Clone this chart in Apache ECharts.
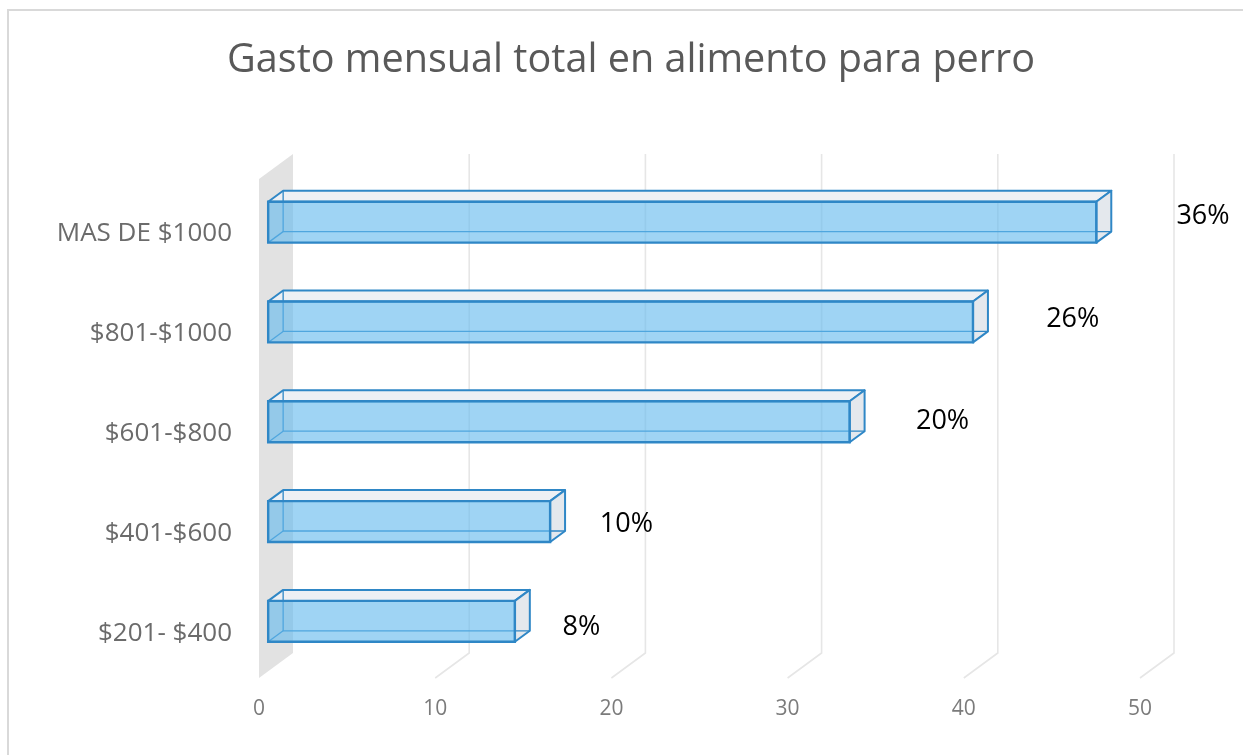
<!DOCTYPE html>
<html>
<head>
<meta charset="utf-8">
<script src="https://cdn.jsdelivr.net/npm/echarts@6/dist/echarts.min.js"></script>
<style>
html,body{margin:0;padding:0;background:#fff;}
#chart{width:1243px;height:755px;}
</style>
</head>
<body>
<div id="chart"></div>
<script>
const categories = ['$201- $400', '$401-$600', '$601-$800', '$801-$1000', 'MAS DE $1000'];
const values = [14, 16, 33, 40, 47];
const pctLabels = ['8%', '10%', '20%', '26%', '36%'];
const xTicks = [0, 10, 20, 30, 40, 50];
const titleText = 'Gasto mensual total en alimento para perro';

const FONT = '"Open Sans", "Noto Sans", sans-serif';
const DEPTH_X = 34, DEPTH_Y = -25;      // full floor depth (px)
const F0 = 0.27, F1 = 0.71;             // bar front/back depth fractions
const BAR_RATIO = 0.41;
const STROKE = '#2f87c6';

const chart = echarts.init(document.getElementById('chart'));

const barData = values.map((v, i) => [i, v, pctLabels[i]]);

chart.setOption({
  animation: false,
  title: {
    text: titleText,
    left: 626, top: 36, textAlign: 'center',
    textStyle: { fontFamily: FONT, fontSize: 39.6, fontWeight: 'normal', color: '#595959' }
  },
  graphic: [{
    type: 'rect', silent: true, z: -10,
    shape: { x: 8, y: 10, width: 1400, height: 900 },
    style: { fill: 'none', stroke: '#d9d9d9', lineWidth: 2 }
  }],
  grid: { left: 259, right: 103, top: 179, bottom: 77 },
  xAxis: {
    type: 'value', min: 0, max: 50, interval: 10,
    axisLine: { show: false }, axisTick: { show: false }, splitLine: { show: false },
    axisLabel: { margin: 21, fontFamily: FONT, fontSize: 21, color: '#7b7b7b' }
  },
  yAxis: {
    type: 'category', data: categories,
    axisLine: { show: false }, axisTick: { show: false }, splitLine: { show: false },
    axisLabel: { margin: 27, fontFamily: FONT, fontSize: 26, color: '#6b6b6b',
      verticalAlign: 'top', lineHeight: 10 }
  },
  series: [
    {
      type: 'custom', silent: true, z: 1,
      data: [[0]],
      renderItem: function (params, api) {
        const cs = params.coordSys;
        const x = cs.x, yt = cs.y, yb = cs.y + cs.height;
        return {
          type: 'polygon',
          shape: { points: [[x, yt], [x + DEPTH_X, yt + DEPTH_Y], [x + DEPTH_X, yb + DEPTH_Y], [x, yb]] },
          style: { fill: '#e2e2e2' }
        };
      }
    },
    {
      type: 'custom', silent: true, z: 1,
      data: xTicks.slice(1).map(t => [t]),
      renderItem: function (params, api) {
        const cs = params.coordSys;
        const p = api.coord([api.value(0), 0]);
        const x = p[0], yb = cs.y + cs.height, yt = cs.y;
        return {
          type: 'polyline',
          shape: { points: [[x, yb], [x + DEPTH_X, yb + DEPTH_Y], [x + DEPTH_X, yt + DEPTH_Y]] },
          style: { fill: 'none', stroke: '#e6e6e6', lineWidth: 1.6 }
        };
      }
    },
    {
      type: 'custom', z: 5,
      data: barData,
      renderItem: function (params, api) {
        const cs = params.coordSys;
        const ci = api.value(0), v = api.value(1);
        const p0 = api.coord([0, ci]);
        const p1 = api.coord([v, ci]);
        const band = api.size([0, 1])[1];
        const h = band * BAR_RATIO;
        const fx = DEPTH_X * F0, fy = DEPTH_Y * F0;
        const dx = DEPTH_X * (F1 - F0), dy = DEPTH_Y * (F1 - F0);
        const xl = p0[0] + fx, xr = p1[0] + fx, yc = p0[1] + fy;
        const yt = yc - h / 2, yb = yc + h / 2;
        const mid = cs.y + cs.height / 2;
        const labelY = yc + (p0[1] - mid) * 0.03;
        const labelX = xr + 34 + v * 0.98;
        return {
          type: 'group',
          children: [
            { type: 'polygon', shape: { points: [[xl, yt], [xr, yt], [xr + dx, yt + dy], [xl + dx, yt + dy]] },
              style: { fill: '#edf0f4', stroke: STROKE, lineWidth: 2, lineJoin: 'round' } },
            { type: 'polygon', shape: { points: [[xr, yt], [xr + dx, yt + dy], [xr + dx, yb + dy], [xr, yb]] },
              style: { fill: '#e4e8ed', stroke: STROKE, lineWidth: 2, lineJoin: 'round' } },
            { type: 'polyline', shape: { points: [[xl + dx, yt + dy], [xl + dx, yb + dy], [xr + dx, yb + dy]] },
              style: { fill: 'none', stroke: STROKE, lineWidth: 1.3 } },
            { type: 'line', shape: { x1: xl, y1: yb, x2: xl + dx, y2: yb + dy },
              style: { stroke: STROKE, lineWidth: 1.3 } },
            { type: 'rect', shape: { x: xl, y: yt, width: xr - xl, height: h },
              style: { fill: 'rgba(100,186,238,0.62)', stroke: STROKE, lineWidth: 2.4 } },
            { type: 'text', style: { text: api.value(2), x: labelX, y: labelY,
              align: 'left', verticalAlign: 'middle', fontFamily: FONT, fontSize: 27, fill: '#000' } }
          ]
        };
      }
    }
  ]
});
</script>
</body>
</html>
